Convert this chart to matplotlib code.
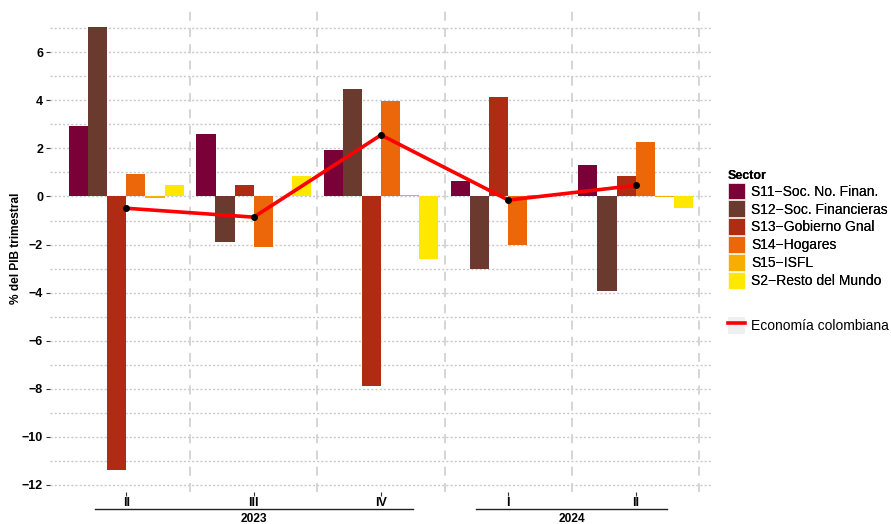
import matplotlib
matplotlib.use("Agg")
import matplotlib.pyplot as plt
from matplotlib.patches import Patch
from matplotlib.lines import Line2D
from matplotlib.legend_handler import HandlerTuple
import numpy as np

plt.rcParams['font.family'] = ['Liberation Sans', 'DejaVu Sans']

quarters = ["II", "III", "IV", "I", "II"]
years = ["2023", "2024"]
year_groups = [(0, 2), (3, 4)]  # index ranges of quarters per year

sectors = ["S11−Soc. No. Finan.", "S12−Soc. Financieras", "S13−Gobierno Gnal",
           "S14−Hogares", "S15−ISFL", "S2−Resto del Mundo"]
colors = ["#7A0038", "#6B3A2E", "#B02B14", "#EB6709", "#F8AE00", "#FFE800"]

s11 = [2.93, 2.60, 1.92, 0.63, 1.29]
s12 = [7.05, -1.88, 4.47, -3.00, -3.92]
s13 = [-11.37, 0.47, -7.89, 4.13, 0.84]
s14 = [0.93, -2.09, 3.97, -2.02, 2.25]
s15 = [-0.05, 0.03, 0.07, 0.05, -0.04]
s2 = [0.47, 0.85, -2.61, 0.06, -0.50]
series = [s11, s12, s13, s14, s15, s2]

economia = [-0.49, -0.86, 2.56, -0.15, 0.46]

fig = plt.figure(figsize=(8.91, 5.24), dpi=100)
ax = fig.add_axes([50/891, 32/524, 662/891, 487/524])

x = np.arange(1, len(quarters) + 1)
bw = 0.15
for j, (vals, c, lab) in enumerate(zip(series, colors, sectors)):
    ax.bar(x + (j - 2.5) * bw, vals, width=bw, color=c, label=lab, zorder=2)

ax.plot(x, economia, color="#FF0000", lw=2.6, zorder=3)
ax.plot(x, economia, 'o', color="black", ms=4, zorder=4)

ax.set_xlim(0.4, 5.6)
ax.set_ylim(-12.3, 7.97)

# grid
for yv in range(-12, 8):
    ax.axhline(yv, color="#C9C9C9", lw=1.0, ls=(0, (1.5, 1.5)), zorder=0)
for xv in np.arange(1.5, 6, 1.0):
    ax.axvline(xv, color="#D2D2D2", lw=1.3, ls=(0, (5, 4)), zorder=0)

for s in ax.spines.values():
    s.set_visible(False)

ax.set_yticks(range(-12, 7, 2))
ax.set_yticklabels([f"{v}".replace("-", "−") for v in range(-12, 7, 2)],
                   fontsize=9, fontweight="bold")
ax.set_xticks(x)
ax.set_xticklabels(quarters, fontsize=9, fontweight="bold")
ax.tick_params(axis='both', length=3, width=0.8, color="#333333", pad=2)
ax.tick_params(axis='x', pad=0.8)
ax.set_ylabel("% del PIB trimestral", fontsize=8.6, fontweight="bold")
ax.yaxis.set_label_coords(-(50 - 22) / 662, 0.5)

# year grouping
trans = ax.get_xaxis_transform()
for yr, (a, b) in zip(years, year_groups):
    x0 = x[a] - 0.25
    x1 = x[b] + 0.25
    ax.plot([x0, x1], [-17 / 487, -17 / 487], transform=trans, color="#222222",
            lw=1.0, clip_on=False)
    ax.text((x0 + x1) / 2, -21 / 487, yr, transform=trans, ha="center", va="top",
            fontsize=8.6, fontweight="bold")

# legends
handles = [Patch(facecolor=c, edgecolor="white", lw=0.5) for c in colors]
leg1 = fig.legend(handles, sectors, title="Sector", loc="upper left",
                  bbox_to_anchor=(722/891, 1 - 164/524), frameon=False,
                  fontsize=10, title_fontproperties={"weight": "bold", "size": 9},
                  handlelength=1.25, handleheight=1.5, labelspacing=0.07,
                  handletextpad=0.45, borderaxespad=0, alignment="left")
fig.add_artist(leg1)
line_handle = (Patch(facecolor="#EFEFEF", edgecolor="none"),
               Line2D([], [], color="#FF0000", lw=2.6))
leg2 = fig.legend([line_handle], ["Economía colombiana"], loc="upper left",
                  bbox_to_anchor=(722/891, 1 - 311/524), frameon=False,
                  fontsize=10, handlelength=1.25, handleheight=1.5,
                  handletextpad=0.45, borderaxespad=0,
                  handler_map={tuple: HandlerTuple(ndivide=1, pad=0)})

fig.savefig("out.png", dpi=100, facecolor="white")
